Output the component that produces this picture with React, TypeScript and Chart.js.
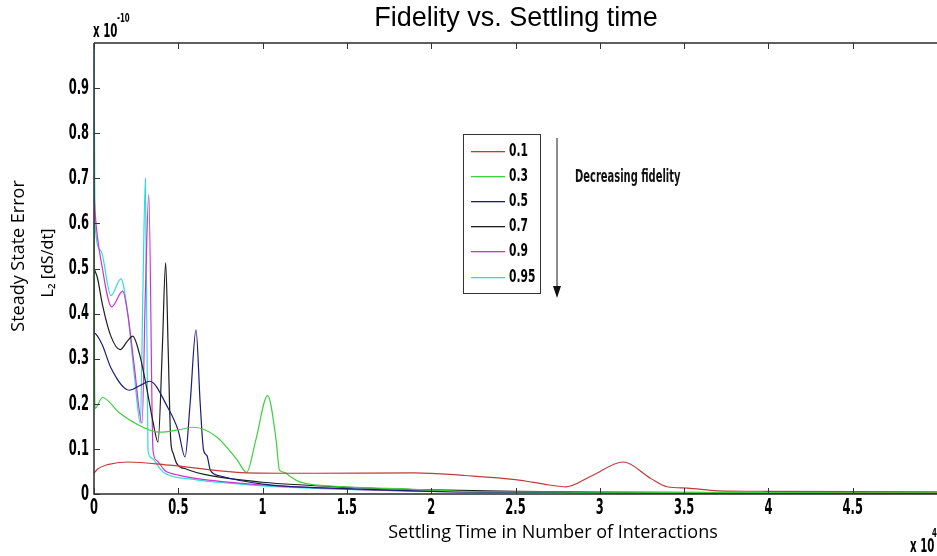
import React, { useEffect, useRef } from "react";
import { Chart, registerables } from "chart.js";

Chart.register(...registerables);

// ---- Data (x in units of 10^4 interactions, y in units of 10^-10) ----
const seriesLabels = ["0.1", "0.3", "0.5", "0.7", "0.9", "0.95"];
const seriesColors = ["#c23b3b", "#3fcf3f", "#1c1c78", "#1e1e1e", "#cc33cc", "#2fdcdc"];

const x01 = [0, 0.02, 0.08, 0.2, 0.45, 0.9, 1.3, 1.9, 2.2, 2.5, 2.7, 2.8, 2.95, 3.14, 3.3, 3.4, 3.52, 3.7, 4.0, 5.0];
const y01 = [0.046, 0.055, 0.065, 0.071, 0.064, 0.047, 0.046, 0.047, 0.041, 0.032, 0.02, 0.016, 0.04, 0.071, 0.035, 0.016, 0.013, 0.007, 0.006, 0.005];

const x03 = [0, 0.003, 0.006, 0.05, 0.15, 0.29, 0.39, 0.5, 0.59, 0.73, 0.85, 0.905, 0.96, 1.03, 1.08, 1.1, 1.13, 1.16, 1.22, 1.5, 1.87, 2.3, 3.0, 4.0, 5.0];
const y03 = [0.76, 0.3, 0.19, 0.214, 0.18, 0.148, 0.137, 0.142, 0.148, 0.126, 0.075, 0.048, 0.12, 0.218, 0.12, 0.053, 0.048, 0.04, 0.027, 0.016, 0.011, 0.005, 0.004, 0.003, 0.003];

const x05 = [0, 0.01, 0.05, 0.1, 0.21, 0.27, 0.33, 0.44, 0.5, 0.54, 0.57, 0.605, 0.63, 0.65, 0.67, 0.69, 0.75, 1.0, 1.5, 2.0, 2.5, 3.0, 4.0, 5.0];
const y05 = [0.357, 0.355, 0.33, 0.28, 0.23, 0.24, 0.25, 0.19, 0.14, 0.082, 0.2, 0.364, 0.2, 0.097, 0.085, 0.053, 0.04, 0.022, 0.012, 0.006, 0.004, 0.003, 0.002, 0.002];

const x07 = [0, 0.02, 0.05, 0.1, 0.155, 0.2, 0.23, 0.27, 0.31, 0.35, 0.38, 0.405, 0.425, 0.44, 0.455, 0.47, 0.49, 0.55, 0.7, 1.0, 1.5, 2.0, 2.5, 3.0, 4.0, 5.0];
const y07 = [0.5, 0.48, 0.42, 0.35, 0.32, 0.34, 0.35, 0.31, 0.24, 0.16, 0.115, 0.32, 0.513, 0.32, 0.12, 0.09, 0.068, 0.055, 0.04, 0.026, 0.015, 0.009, 0.006, 0.004, 0.003, 0.002];

const x09 = [0, 0.003, 0.006, 0.05, 0.105, 0.17, 0.2, 0.24, 0.285, 0.305, 0.325, 0.35, 0.37, 0.42, 0.5, 0.7, 1.0, 1.5, 2.0, 2.5, 3.0, 4.0, 5.0];
const y09 = [0.66, 0.65, 0.627, 0.5, 0.415, 0.45, 0.4, 0.28, 0.157, 0.45, 0.664, 0.097, 0.075, 0.052, 0.042, 0.03, 0.02, 0.011, 0.006, 0.004, 0.003, 0.002, 0.002];

const x095 = [0, 0.003, 0.006, 0.04, 0.1, 0.16, 0.2, 0.24, 0.275, 0.29, 0.305, 0.32, 0.34, 0.39, 0.42, 0.6, 0.8, 1.0, 1.5, 2.0, 2.5, 3.0, 4.0, 5.0];
const y095 = [1.0, 0.8, 0.6, 0.54, 0.44, 0.477, 0.4, 0.26, 0.157, 0.45, 0.7, 0.097, 0.08, 0.057, 0.046, 0.032, 0.024, 0.018, 0.01, 0.006, 0.004, 0.003, 0.002, 0.002];

const seriesX = [x01, x03, x05, x07, x09, x095];
const seriesY = [y01, y03, y05, y07, y09, y095];

const xTicks = [0, 0.5, 1, 1.5, 2, 2.5, 3, 3.5, 4, 4.5];
const xTickLabels = ["0", "0.5", "1", "1.5", "2", "2.5", "3", "3.5", "4", "4.5"];
const yTicks = [0, 0.1, 0.2, 0.3, 0.4, 0.5, 0.6, 0.7, 0.8, 0.9];
const yTickLabels = ["0", "0.1", "0.2", "0.3", "0.4", "0.5", "0.6", "0.7", "0.8", "0.9"];

const titleText = "Fidelity vs. Settling time";
const xTitle = "Settling Time in Number of Interactions";
const yTitle1 = "Steady State Error";
const yTitle2 = "L\u2082 [dS/dt]";
const noteText = "Decreasing fidelity";

const NARROW = '"Liberation Sans Narrow", "DejaVu Sans Condensed", "Arial Narrow", sans-serif';

function narrowText(ctx: CanvasRenderingContext2D, text: string, x: number, y: number, align: CanvasTextAlign, sx: number) {
  ctx.save();
  ctx.translate(x, y);
  ctx.scale(sx, 1);
  ctx.textAlign = align;
  ctx.fillText(text, 0, 0);
  ctx.restore();
}

const decorPlugin = {
  id: "decor",
  beforeDraw(chart: any) {
    const ctx = chart.ctx;
    ctx.save();
    ctx.fillStyle = "#fff";
    ctx.fillRect(0, 0, chart.width, chart.height);
    ctx.restore();
  },
  afterDraw(chart: any) {
    const ctx: CanvasRenderingContext2D = chart.ctx;
    const xs = chart.scales.x;
    const ys = chart.scales.y;
    const a = chart.chartArea;
    ctx.save();

    // axes box
    ctx.strokeStyle = "#2a2a2a";
    ctx.lineWidth = 1.5;
    ctx.beginPath();
    ctx.moveTo(a.left, a.top);
    ctx.lineTo(a.right, a.top);
    ctx.moveTo(a.left, a.top);
    ctx.lineTo(a.left, a.bottom);
    ctx.lineTo(a.right, a.bottom);
    ctx.stroke();

    // inward ticks
    ctx.lineWidth = 1;
    ctx.strokeStyle = "#333";
    ctx.beginPath();
    xTicks.forEach((v) => {
      const px = Math.round(xs.getPixelForValue(v)) + 0.5;
      ctx.moveTo(px, a.bottom);
      ctx.lineTo(px, a.bottom - 6);
      ctx.moveTo(px, a.top);
      ctx.lineTo(px, a.top + 6);
    });
    yTicks.forEach((v) => {
      const py = Math.round(ys.getPixelForValue(v)) + 0.5;
      ctx.moveTo(a.left, py);
      ctx.lineTo(a.left + 6, py);
    });
    ctx.stroke();

    // tick labels
    ctx.fillStyle = "#000";
    ctx.font = "bold 22px " + NARROW;
    ctx.textBaseline = "middle";
    xTicks.forEach((v, i) => {
      narrowText(ctx, xTickLabels[i], xs.getPixelForValue(v), a.bottom + 14, "center", 0.58);
    });
    yTicks.forEach((v, i) => {
      narrowText(ctx, yTickLabels[i], a.left - 5, ys.getPixelForValue(v), "right", 0.58);
    });

    // exponent labels
    ctx.font = "bold 19px " + NARROW;
    ctx.textBaseline = "alphabetic";
    narrowText(ctx, "x 10", a.left - 1, a.top - 6, "left", 0.6);
    ctx.font = "bold 13px " + NARROW;
    narrowText(ctx, "-10", a.left + 23, a.top - 21, "left", 0.6);
    ctx.font = "bold 19px " + NARROW;
    narrowText(ctx, "x 10", 910, 552, "left", 0.6);
    ctx.font = "bold 13px " + NARROW;
    narrowText(ctx, "4", 932, 537, "left", 0.6);

    // title
    ctx.font = '27px "Liberation Sans", Arial, sans-serif';
    ctx.textAlign = "center";
    ctx.textBaseline = "middle";
    ctx.fillText(titleText, 516, 19);

    // axis titles
    ctx.font = '18px "Open Sans", "Noto Sans", sans-serif';
    ctx.fillText(xTitle, 553, 533);
    ctx.save();
    ctx.translate(19, 256);
    ctx.rotate(-Math.PI / 2);
    ctx.fillText(yTitle1, 0, 0);
    ctx.restore();
    ctx.save();
    ctx.translate(48, 263);
    ctx.rotate(-Math.PI / 2);
    ctx.font = '16px "Noto Sans", "Open Sans", sans-serif';
    ctx.fillText(yTitle2, 0, 0);
    ctx.restore();

    // legend
    const lx = 463.5, ly = 134.5, lw = 77, lh = 159;
    ctx.fillStyle = "#fff";
    ctx.fillRect(lx, ly, lw, lh);
    ctx.strokeStyle = "#333";
    ctx.lineWidth = 1;
    ctx.strokeRect(lx, ly, lw, lh);
    seriesLabels.forEach((label, i) => {
      const ry = Math.round(151 + i * 25.1);
      ctx.fillStyle = seriesColors[i];
      ctx.fillRect(471, ry, 34, 1.3);
      ctx.fillStyle = "#000";
      ctx.font = "bold 17px " + NARROW;
      ctx.textBaseline = "middle";
      narrowText(ctx, label, 509, ry + 0.5, "left", 0.7);
    });

    // annotation arrow and text
    ctx.strokeStyle = "#666";
    ctx.lineWidth = 1.5;
    ctx.beginPath();
    ctx.moveTo(557, 138);
    ctx.lineTo(557, 292);
    ctx.stroke();
    ctx.fillStyle = "#111";
    ctx.beginPath();
    ctx.moveTo(553, 286);
    ctx.lineTo(561, 286);
    ctx.lineTo(557, 298);
    ctx.closePath();
    ctx.fill();
    ctx.font = "bold 17px " + NARROW;
    ctx.textBaseline = "middle";
    narrowText(ctx, noteText, 575, 178, "left", 0.65);

    ctx.restore();
  },
};

export default function App() {
  const ref = useRef<HTMLCanvasElement | null>(null);
  useEffect(() => {
    if (!ref.current) return;
    const datasets = seriesLabels.map((label, i) => ({
      label,
      data: seriesX[i].map((x, j) => ({ x, y: seriesY[i][j] })),
      borderColor: seriesColors[i],
      backgroundColor: seriesColors[i],
      borderWidth: 1.2,
      pointRadius: 0,
      showLine: true,
      fill: false,
      cubicInterpolationMode: "monotone" as const,
    }));
    const chart = new Chart(ref.current, {
      type: "scatter",
      data: { datasets },
      options: {
        animation: false,
        responsive: false,
        maintainAspectRatio: false,
        layout: { padding: { left: 94, top: 43, right: 0, bottom: 62 } },
        plugins: { legend: { display: false }, tooltip: { enabled: false }, title: { display: false } },
        scales: {
          x: { type: "linear", min: 0, max: 5, display: false },
          y: { type: "linear", min: 0, max: 1, display: false },
        },
      },
      plugins: [decorPlugin],
    });
    return () => chart.destroy();
  }, []);
  return (
    <div style={{ position: "fixed", left: 0, top: 0, width: 937, height: 556, background: "#fff" }}>
      <canvas ref={ref} width={937} height={556} style={{ width: 937, height: 556, display: "block" }} />
    </div>
  );
}
